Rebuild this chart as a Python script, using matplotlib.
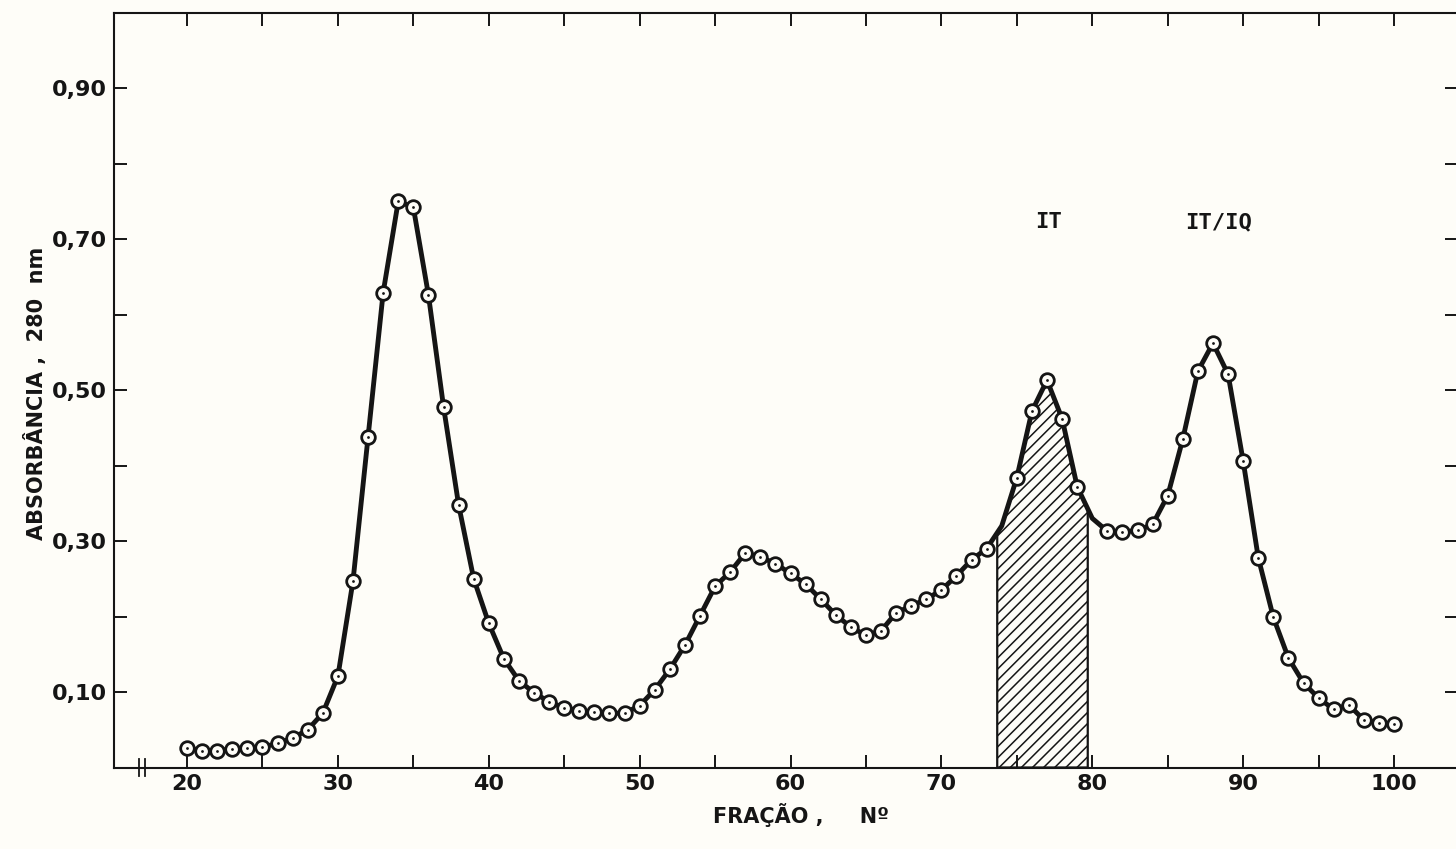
import numpy as np
import matplotlib
matplotlib.use("Agg")
import matplotlib.pyplot as plt
from matplotlib.ticker import FixedLocator, FuncFormatter
import matplotlib.transforms as mtransforms

# fraction number and absorbance at 280 nm
fraction = np.arange(20, 101)
absorbance = [
    0.026, 0.022, 0.022, 0.025, 0.026, 0.027, 0.032, 0.039, 0.050, 0.072,   # 20-29
    0.121, 0.247, 0.438, 0.629, 0.750, 0.742, 0.626, 0.478, 0.348, 0.250,   # 30-39
    0.191, 0.144, 0.115, 0.099, 0.087, 0.079, 0.075, 0.073, 0.072, 0.072,   # 40-49
    0.082, 0.103, 0.130, 0.162, 0.201, 0.240, 0.259, 0.284, 0.279, 0.270,   # 50-59
    0.257, 0.243, 0.223, 0.202, 0.186, 0.175, 0.181, 0.205, 0.214, 0.223,   # 60-69
    0.235, 0.254, 0.275, 0.290, 0.320, 0.384, 0.472, 0.513, 0.462, 0.372,   # 70-79
    0.330, 0.313, 0.312, 0.314, 0.322, 0.360, 0.435, 0.525, 0.562, 0.521,   # 80-89
    0.406, 0.278, 0.199, 0.145, 0.112, 0.092, 0.077, 0.083, 0.063, 0.059,   # 90-99
    0.058,                                                                  # 100
]
no_marker = [74, 80]          # fractions drawn only as part of the curve
hatch_start, hatch_end = 73.7, 79.7   # pooled fractions (hatched)

peak_labels = ["IT", "IT/IQ"]
peak_label_x = [77.1, 88.4]
peak_label_y = [0.722, 0.722]

x_major = [20, 30, 40, 50, 60, 70, 80, 90, 100]
x_minor = [25, 35, 45, 55, 65, 75, 85, 95]
y_major = [0.10, 0.30, 0.50, 0.70, 0.90]
y_minor = [0.20, 0.40, 0.60, 0.80]

absorbance = np.array(absorbance)
marked = ~np.isin(fraction, no_marker)

INK = "#151515"
PAPER = "#fefdf8"

W, H = 1456, 849
fig = plt.figure(figsize=(W / 100, H / 100), dpi=100)
fig.patch.set_facecolor(PAPER)
ax = fig.add_axes([114 / W, (H - 767.5) / H, 1344 / W, 755 / H])
ax.set_facecolor(PAPER)

plt.rcParams['hatch.linewidth'] = 1.1

# hatched pool: polygon follows the plotted curve between the two bounds
inside = (fraction > hatch_start) & (fraction < hatch_end)
hx = np.concatenate([[hatch_start], fraction[inside], [hatch_end]])
hy = np.concatenate([[np.interp(hatch_start, fraction, absorbance)],
                     absorbance[inside],
                     [np.interp(hatch_end, fraction, absorbance)]])
ax.fill_between(hx, 0, hy, facecolor="none", edgecolor=INK,
                hatch="///", lw=1.6, zorder=1)

ax.plot(fraction, absorbance, color=INK, lw=3.5,
        solid_joinstyle="round", solid_capstyle="round", zorder=2)
ax.plot(fraction[marked], absorbance[marked], "o", ms=9.8, mfc=PAPER,
        mec=INK, mew=2.0, zorder=3)
ax.plot(fraction[marked], absorbance[marked], "o", ms=2.0, color=INK,
        mew=0, zorder=4)

for lab, lx, ly in zip(peak_labels, peak_label_x, peak_label_y):
    ax.text(lx, ly, lab, ha="center", va="center", fontsize=16,
            fontweight="bold", family="DejaVu Sans Mono", color=INK)

ax.set_xlim(15.16, 104.24)
ax.set_ylim(0, 1.0)

ax.xaxis.set_major_locator(FixedLocator(x_major))
ax.xaxis.set_minor_locator(FixedLocator(x_minor))
ax.yaxis.set_major_locator(FixedLocator(y_major))
ax.yaxis.set_minor_locator(FixedLocator(y_minor))
ax.yaxis.set_major_formatter(FuncFormatter(lambda v, p: f"{v:.2f}".replace(".", ",")))

ax.tick_params(which="both", direction="in", top=True, right=True,
               length=9.5, width=1.4, color=INK)
ax.tick_params(which="major", labelsize=16, pad=5)
for lab in ax.get_xticklabels() + ax.get_yticklabels():
    lab.set_fontweight("bold")
    lab.set_color(INK)

for s in ax.spines.values():
    s.set_linewidth(1.5)
    s.set_color(INK)

# axis break mark
trans = mtransforms.blended_transform_factory(ax.transData, ax.transAxes)
for bx in (16.8, 17.2):
    ax.plot([bx, bx], [-0.011, 0.011], color=INK, lw=1.3,
            transform=trans, clip_on=False)

fig.text(36 / W, 1 - 393 / H, "ABSORBÂNCIA ,  280  nm", rotation=90,
         ha="center", va="center", fontsize=15, fontweight="bold", color=INK)
fig.text(801 / W, 1 - 815 / H, "FRAÇÃO ,     Nº", ha="center", va="center",
         fontsize=15, fontweight="bold", color=INK)

fig.savefig("out.png", dpi=100, facecolor=PAPER)
